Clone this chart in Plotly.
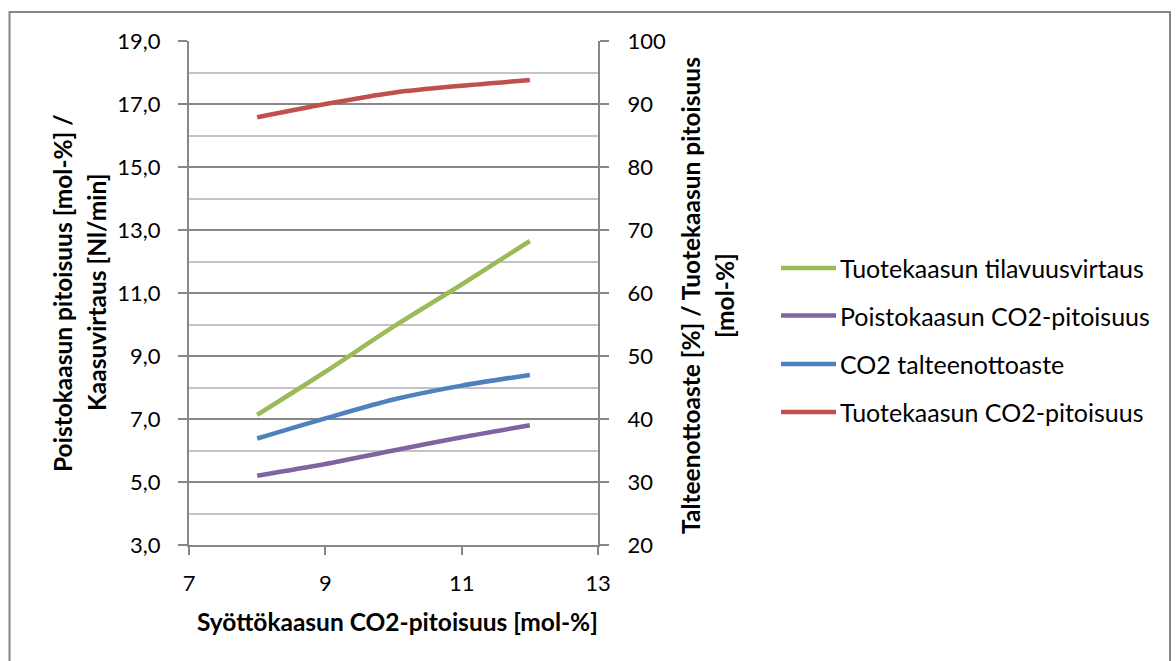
import plotly.graph_objects as go

# Feed gas CO2 content [mol-%]
feed_co2 = [8, 9, 10, 11, 12]

# Left axis series
product_flow = [7.13, 8.5, 9.93, 11.27, 12.65]      # Tuotekaasun tilavuusvirtaus [Nl/min]
exhaust_co2 = [5.2, 5.57, 6.0, 6.42, 6.8]           # Poistokaasun CO2-pitoisuus [mol-%]

# Right axis series
capture_rate = [36.9, 40.1, 43.1, 45.3, 47.0]       # CO2 talteenottoaste [%]
product_co2 = [87.9, 90.0, 91.8, 92.9, 93.8]        # Tuotekaasun CO2-pitoisuus [mol-%]

series_names = [
    "Tuotekaasun tilavuusvirtaus",
    "Poistokaasun CO2-pitoisuus",
    "CO2 talteenottoaste",
    "Tuotekaasun CO2-pitoisuus",
]
series_colors = ["#9BBB59", "#8064A2", "#4F81BD", "#C0504D"]

x_ticks = [7, 9, 11, 13]

W, H = 1176, 661
PL, PR, PT, PB = 189, 598, 41, 545  # plot area in pixels
FONT = "Lato"
GRID_MAJOR = "#878787"
GRID_MINOR = "#c4c4c4"


def px_x(px):
    return (px - PL) / (PR - PL)


def px_y(py):
    return (PB - py) / (PB - PT)


fig = go.Figure()

left_data = [product_flow, exhaust_co2]
right_data = [capture_rate, product_co2]

for i, ys in enumerate(left_data):
    fig.add_trace(go.Scatter(
        x=feed_co2, y=ys, name=series_names[i], mode="lines",
        line=dict(color=series_colors[i], width=4.5, shape="spline", smoothing=0.8),
        yaxis="y", showlegend=False,
    ))
for j, ys in enumerate(right_data):
    i = j + 2
    fig.add_trace(go.Scatter(
        x=feed_co2, y=ys, name=series_names[i], mode="lines",
        line=dict(color=series_colors[i], width=4.5, shape="spline", smoothing=0.8),
        yaxis="y2", showlegend=False,
    ))

# Outer chart frame
fig.add_shape(type="rect", xref="paper", yref="paper",
              x0=px_x(9.5), x1=px_x(1170), y0=px_y(12), y1=px_y(680),
              line=dict(color="#868686", width=2), fillcolor="rgba(0,0,0,0)",
              layer="below")

# Legend drawn as line samples with labels
legend_rows = [268, 315.5, 364, 412]
for name, color, row in zip(series_names, series_colors, legend_rows):
    fig.add_shape(type="line", xref="paper", yref="paper",
                  x0=px_x(781), x1=px_x(836), y0=px_y(row), y1=px_y(row),
                  line=dict(color=color, width=4.5))
    fig.add_annotation(xref="paper", yref="paper", x=px_x(838), y=px_y(row),
                       text=name, showarrow=False, xanchor="left", yanchor="middle",
                       font=dict(family=FONT, size=25, color="#000000"))

# Axis titles
title_font = dict(family=FONT, size=24.5, color="#000000", weight="bold")
fig.add_annotation(xref="paper", yref="paper", x=px_x(397), y=px_y(621),
                   text="Syöttökaasun CO2-pitoisuus [mol-%]", showarrow=False,
                   xanchor="center", yanchor="middle", font=title_font)
fig.add_annotation(xref="paper", yref="paper", x=px_x(62), y=px_y(293),
                   text="Poistokaasun pitoisuus [mol-%] /", showarrow=False,
                   textangle=-90, xanchor="center", yanchor="middle", font=title_font)
fig.add_annotation(xref="paper", yref="paper", x=px_x(96), y=px_y(293),
                   text="Kaasuvirtaus [Nl/min]", showarrow=False,
                   textangle=-90, xanchor="center", yanchor="middle", font=title_font)
fig.add_annotation(xref="paper", yref="paper", x=px_x(690), y=px_y(296),
                   text="Talteenottoaste [%] / Tuotekaasun pitoisuus", showarrow=False,
                   textangle=-90, xanchor="center", yanchor="middle", font=title_font)
fig.add_annotation(xref="paper", yref="paper", x=px_x(724), y=px_y(296),
                   text="[mol-%]", showarrow=False,
                   textangle=-90, xanchor="center", yanchor="middle", font=title_font)

tick_font = dict(family=FONT, size=22, color="#000000")

fig.update_layout(
    width=W, height=H, autosize=False,
    margin=dict(l=PL, r=W - PR, t=PT, b=H - PB, pad=0),
    paper_bgcolor="#ffffff", plot_bgcolor="#ffffff",
    separators=",.",
    showlegend=False,
    xaxis=dict(
        range=[7, 13], tickvals=x_ticks, ticks="outside", ticklen=8, tickwidth=2,
        tickcolor=GRID_MAJOR, showgrid=False, zeroline=False,
        showline=True, linecolor=GRID_MAJOR, linewidth=2,
        tickfont=tick_font, ticklabelstandoff=10,
    ),
    yaxis=dict(
        range=[3, 19], dtick=2, tick0=3, tickformat=".1f",
        ticks="outside", ticklen=9, tickwidth=2, tickcolor=GRID_MAJOR,
        showgrid=True, gridcolor=GRID_MAJOR, gridwidth=2,
        minor=dict(dtick=1, tick0=4, showgrid=True, gridcolor=GRID_MINOR, gridwidth=2),
        zeroline=False, showline=True, linecolor=GRID_MAJOR, linewidth=2,
        tickfont=tick_font, ticklabelstandoff=13,
    ),
    yaxis2=dict(
        range=[20, 100], dtick=10, overlaying="y", side="right",
        ticks="outside", ticklen=9, tickwidth=2, tickcolor=GRID_MAJOR,
        showgrid=False, zeroline=False, showline=True, linecolor=GRID_MAJOR, linewidth=2,
        tickfont=tick_font, ticklabelstandoff=14,
    ),
)

fig.write_html("out.html")
